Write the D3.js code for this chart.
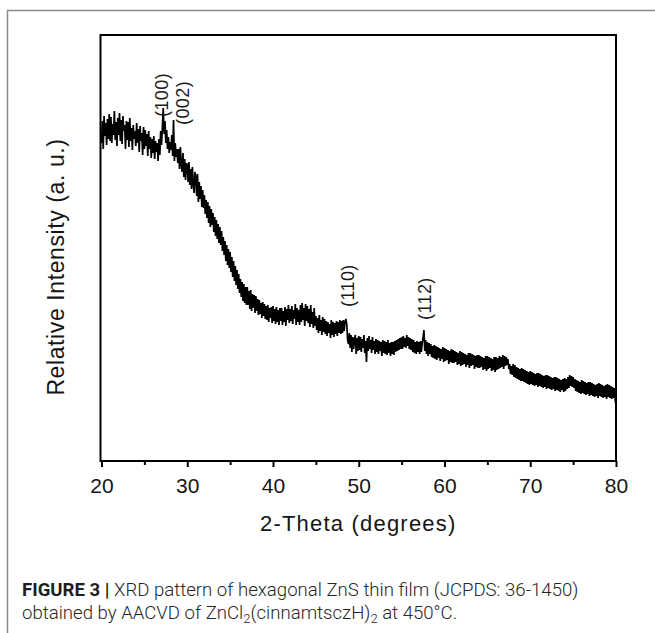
<!DOCTYPE html>
<html>
<head>
<meta charset="utf-8">
<script src="https://cdn.jsdelivr.net/npm/d3@7"></script>
<style>
  html, body { margin: 0; padding: 0; background: #fff; }
  svg { display: block; }
</style>
</head>
<body>
<svg id="chart" width="655" height="633"></svg>
<script>
// ---- data ----
const xStart = 20;      // 2-theta of first sample
const xStep = 0.1;      // sampling step (degrees)
const xTicks = [20, 30, 40, 50, 60, 70, 80];
const xMinorTicks = [25, 35, 45, 55, 65, 75];
const peakLabels = ["(100)", "(002)", "(110)", "(112)"];
const peakPositions = [27.7, 30.15, 49.45, 58.45];
const peakLabelHeights = [344, 336, 154, 141];
// intensity (a.u.), one row per degree: 20.0 ... 20.9, 21.0 ... 79.9, then 80.0
const intensity = [
  318,340,312,345,325,338,316,342,322,347,
  320,344,318,337,326,350,321,339,315,343,
  326,348,320,341,317,345,330,336,312,340,
  321,339,314,343,320,333,311,336,322,330,
  315,338,318,332,309,335,320,328,306,334,
  312,331,315,327,305,330,312,324,303,322,
  308,325,302,320,309,318,300,322,306,330,
  316,334,353,327,340,318,331,312,324,308,
  319,311,326,305,341,300,318,304,312,298,
  312,292,314,297,289,308,284,302,281,298,
  296,279,299,276,292,272,294,277,268,289,
  284,265,287,259,279,262,275,254,271,253,
  266,247,261,243,259,238,255,234,252,236,
  248,229,244,225,241,222,237,218,234,216,
  230,210,224,206,220,200,216,196,212,193,
  209,189,204,184,200,180,195,176,191,172,
  187,168,182,164,179,160,177,158,174,156,
  174,156,170,152,171,150,167,153,166,148,
  165,150,162,146,161,147,158,143,159,145,
  157,142,155,141,156,139,153,143,154,138,
  155,140,152,137,154,139,151,136,153,140,
  153,136,150,139,154,135,152,141,156,138,
  152,140,155,137,151,142,157,136,153,139,
  151,136,156,139,158,141,153,135,157,140,
  155,138,152,134,156,137,149,133,153,135,
  145,131,143,128,146,130,141,126,144,129,
  142,127,140,125,139,128,137,123,141,126,
  139,124,138,127,140,125,139,128,141,127,
  140,128,141,130,139,142,137,121,117,128,
  113,126,109,124,112,121,126,107,123,110,
  125,111,124,109,122,113,126,108,120,99,
  123,110,125,112,121,108,124,111,120,107,
  122,109,121,107,120,110,119,105,121,108,
  120,107,119,106,121,108,118,105,119,107,
  119,106,120,109,121,110,122,111,123,112,
  124,112,125,114,123,113,126,115,124,112,
  123,111,122,109,121,108,119,107,120,109,
  119,107,120,109,118,123,131,110,121,107,
  119,105,118,107,117,104,115,103,116,102,
  115,101,114,103,113,100,112,102,114,99,
  113,100,112,101,111,97,110,99,112,98,
  111,98,110,99,109,96,108,97,110,95,
  109,96,108,97,107,94,106,96,108,93,
  108,95,107,96,106,92,105,94,106,93,
  106,93,105,94,104,91,103,92,105,90,
  105,92,104,93,103,90,102,91,104,89,
  104,91,103,92,105,93,104,94,106,92,
  105,95,104,96,102,92,97,87,95,86,
  97,84,96,83,94,82,93,81,92,80,
  93,80,92,79,91,78,90,77,89,76,
  90,77,89,76,88,75,87,76,88,74,
  88,75,87,74,86,73,85,74,86,72,
  86,73,85,72,84,71,83,72,84,70,
  84,71,83,70,82,69,81,71,82,69,
  83,70,82,72,84,73,86,75,85,74,
  84,73,82,70,81,69,80,68,79,67,
  81,68,80,67,79,66,78,67,79,65,
  79,66,78,65,77,64,76,65,77,63,
  78,65,77,64,76,63,75,64,76,62,
  77,64,76,63,75,62,74,63,73,61,
  56
];
const xTitle = "2-Theta (degrees)";
const yTitle = "Relative Intensity (a. u.)";

// ---- layout ----
const svg = d3.select("#chart");
const W = 655, H = 633;
const plot = { left: 100.5, right: 616, top: 35, bottom: 461 };

const x = d3.scaleLinear().domain([20, 80]).range([plot.left + 1, plot.right]);
const y = d3.scaleLinear().domain([0, 426]).range([plot.bottom, plot.top]);

// outer figure frame
svg.append("path")
  .attr("d", `M7.5,${H} V10.5 H${W}`)
  .attr("fill", "none")
  .attr("stroke", "#8a8a8a")
  .attr("stroke-width", 1.5);

// data line
const pts = intensity.map((v, i) => [xStart + i * xStep, v]);
const line = d3.line().x(d => x(d[0])).y(d => y(d[1]));
svg.append("path")
  .datum(pts)
  .attr("d", line)
  .attr("fill", "none")
  .attr("stroke", "#000")
  .attr("stroke-width", 1.7)
  .attr("stroke-linejoin", "miter");

// plot frame
svg.append("rect")
  .attr("x", plot.left).attr("y", plot.top)
  .attr("width", plot.right - plot.left).attr("height", plot.bottom - plot.top)
  .attr("fill", "none").attr("stroke", "#000").attr("stroke-width", 2);

// x axis
const xAxis = d3.axisBottom(x).tickValues(xTicks).tickSize(6).tickPadding(11)
  .tickFormat(d3.format("d"));
const gx = svg.append("g").attr("transform", `translate(0,${plot.bottom})`).call(xAxis);
gx.select(".domain").remove();
gx.selectAll(".tick line").attr("stroke", "#000").attr("stroke-width", 2);
gx.selectAll(".tick text")
  .attr("font-family", "'Liberation Sans', Arial, sans-serif")
  .attr("font-size", 21).attr("fill", "#151515");

const gxm = svg.append("g").attr("transform", `translate(0,${plot.bottom})`)
  .call(d3.axisBottom(x).tickValues(xMinorTicks).tickSize(4).tickFormat(""));
gxm.select(".domain").remove();
gxm.selectAll(".tick line").attr("stroke", "#000").attr("stroke-width", 2);

// axis titles
svg.append("text")
  .attr("x", (plot.left + plot.right) / 2).attr("y", 531)
  .attr("text-anchor", "middle")
  .attr("font-family", "'Liberation Sans', Arial, sans-serif")
  .attr("font-size", 22).attr("letter-spacing", 1.2).attr("fill", "#151515")
  .text(xTitle);

svg.append("text")
  .attr("transform", `translate(64,267) rotate(-90)`)
  .attr("text-anchor", "middle")
  .attr("font-family", "'Liberation Sans', Arial, sans-serif")
  .attr("font-size", 23).attr("letter-spacing", 0.6).attr("fill", "#151515")
  .text(yTitle);

// peak labels
peakLabels.forEach((t, i) => {
  svg.append("text")
    .attr("transform", `translate(${x(peakPositions[i])},${y(peakLabelHeights[i])}) rotate(-90)`)
    .attr("text-anchor", "start")
    .attr("font-family", "'Liberation Sans', Arial, sans-serif")
    .attr("font-size", 18).attr("letter-spacing", 0.4).attr("fill", "#1a1a1a")
    .text(t);
});

// caption
const cap = svg.append("g")
  .attr("font-family", "Roboto, 'Liberation Sans', sans-serif")
  .attr("font-size", 18.6).attr("fill", "#262626");
const l1 = cap.append("text").attr("x", 22).attr("y", 596);
l1.append("tspan").attr("font-weight", "bold").attr("fill", "#1e1e1e").text("FIGURE 3 |");
l1.append("tspan").attr("font-weight", 300).text(" XRD pattern of hexagonal ZnS thin film (JCPDS: 36-1450)");
const l2 = cap.append("text").attr("x", 22).attr("y", 619).attr("font-weight", 300);
l2.append("tspan").text("obtained by AACVD of ZnCl");
l2.append("tspan").attr("font-size", 13).attr("dy", 4).text("2");
l2.append("tspan").attr("dy", -4).text("(cinnamtsczH)");
l2.append("tspan").attr("font-size", 13).attr("dy", 4).text("2");
l2.append("tspan").attr("dy", -4).text(" at 450°C.");
</script>
</body>
</html>
